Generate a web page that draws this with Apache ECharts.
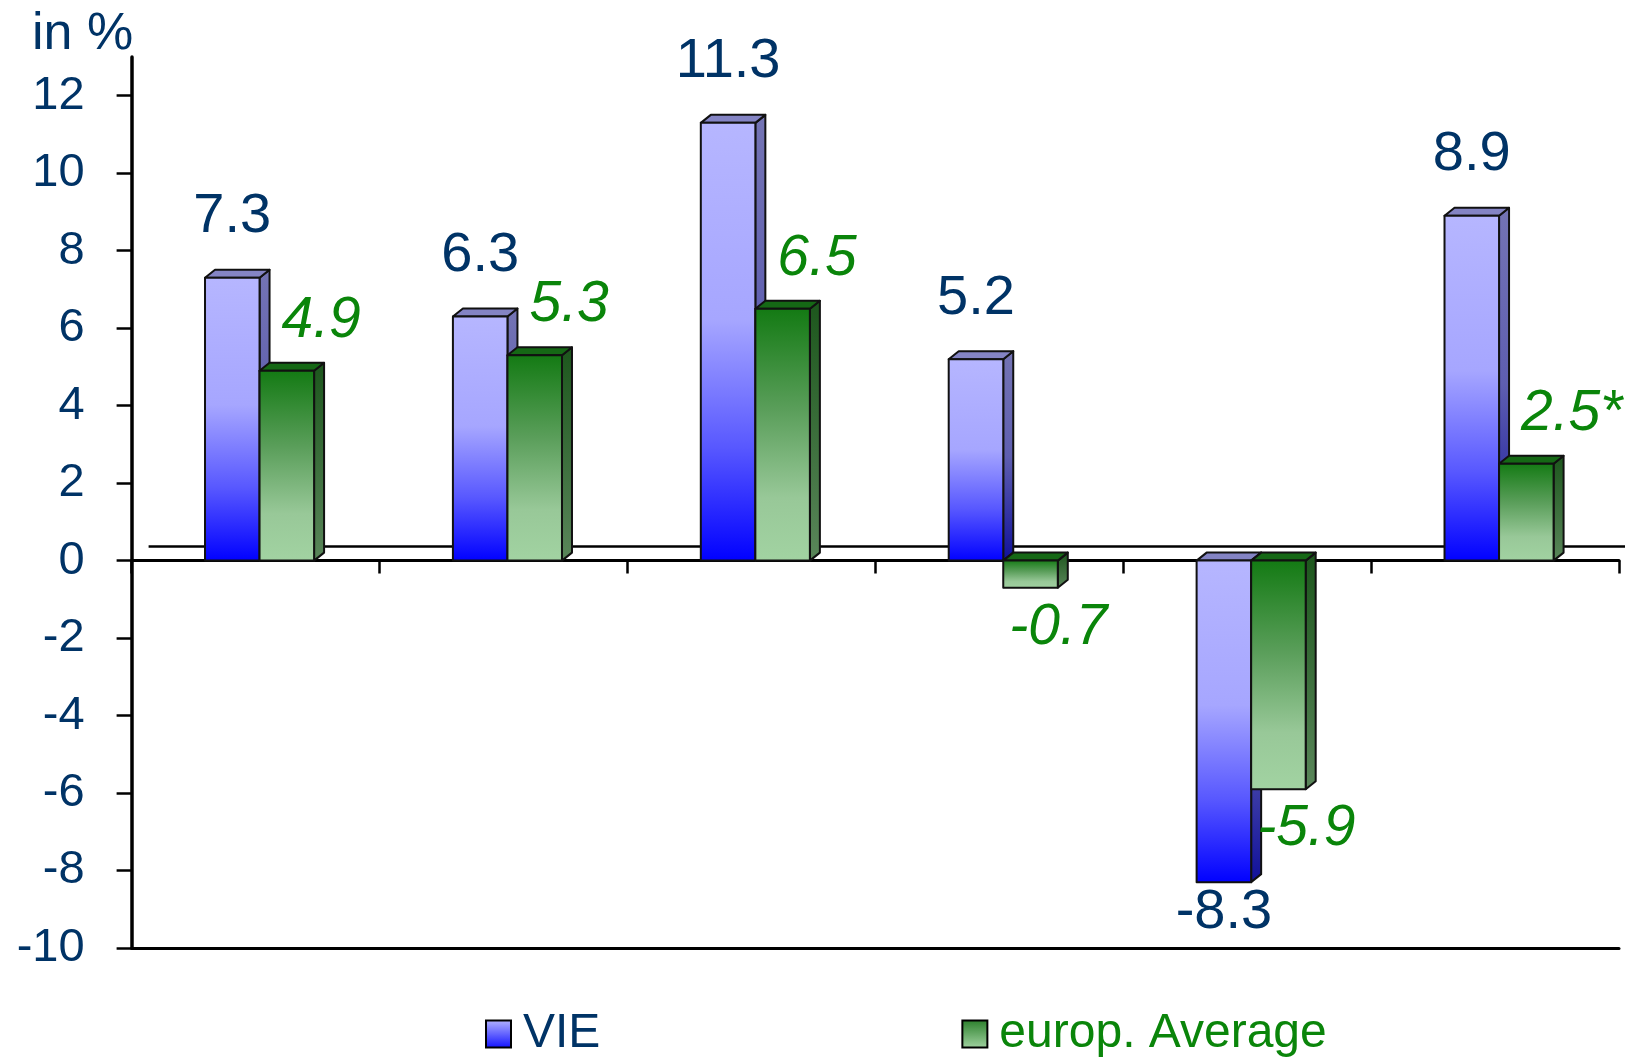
<!DOCTYPE html>
<html>
<head>
<meta charset="utf-8">
<script src="https://cdn.jsdelivr.net/npm/echarts@6/dist/echarts.min.js"></script>
<style>
html,body{margin:0;padding:0;background:#fff;}
#chart{width:1625px;height:1061px;}
</style>
</head>
<body>
<div id="chart"></div>
<script>
const categories = ['P1', 'P2', 'P3', 'P4', 'P5', 'P6'];
const vieValues = [7.3, 6.3, 11.3, 5.2, -8.3, 8.9];
const avgValues = [4.9, 5.3, 6.5, -0.7, -5.9, 2.5];
const avgNotes = ['', '', '', '', '', '*'];
const yTicks = [-10, -8, -6, -4, -2, 0, 2, 4, 6, 8, 10, 12];
const seriesNames = ['VIE', 'europ. Average'];

const FONT = "'Liberation Sans', Arial, Helvetica, sans-serif";
const NAVY = '#003366';
const GREEN = '#0a850a';
const G = echarts.graphic.LinearGradient;

const styles = [
  {
    front: new G(0, 0, 0, 1, [
      { offset: 0, color: '#b6b6ff' }, { offset: 0.45, color: '#a6a6ff' },
      { offset: 0.74, color: '#5858ff' }, { offset: 1, color: '#0000ff' }]),
    side: new G(0, 0, 0, 1, [
      { offset: 0, color: '#7474b4' }, { offset: 0.5, color: '#5e5eb0' },
      { offset: 1, color: '#10109a' }]),
    top: '#8484c4',
    labelColor: NAVY, italic: false
  },
  {
    front: new G(0, 0, 0, 1, [
      { offset: 0, color: '#137a13' }, { offset: 0.4, color: '#5a9e5a' },
      { offset: 0.75, color: '#98c898' }, { offset: 1, color: '#a2d3a2' }]),
    side: new G(0, 0, 0, 1, [
      { offset: 0, color: '#1c561c' }, { offset: 1, color: '#5a865a' }]),
    top: '#156815',
    labelColor: GREEN, italic: true
  }
];

function makeRender(side) {
  return function (params, api) {
    const cat = api.value(0);
    const v = api.value(1);
    const p0 = api.coord([cat, 0]);
    const pv = api.coord([cat, v]);
    const band = api.size([1, 0])[0];
    const w = band * 0.22;
    const dx = 10, dy = 8;
    const cx = p0[0] + 4;
    const x0 = side === 0 ? cx - w : cx;
    const yTop = Math.min(p0[1], pv[1]);
    const yBot = Math.max(p0[1], pv[1]);
    const st = styles[side];
    const stroke = { stroke: '#111', lineWidth: 2, lineJoin: 'round' };
    const children = [
      { type: 'polygon', shape: { points: [[x0 + w, yTop], [x0 + w + dx, yTop - dy], [x0 + w + dx, yBot - dy], [x0 + w, yBot]] },
        style: Object.assign({ fill: st.side }, stroke) },
      { type: 'polygon', shape: { points: [[x0, yTop], [x0 + dx, yTop - dy], [x0 + w + dx, yTop - dy], [x0 + w, yTop]] },
        style: Object.assign({ fill: st.top }, stroke) },
      { type: 'rect', shape: { x: x0, y: yTop, width: w, height: yBot - yTop },
        style: Object.assign({ fill: st.front }, stroke) }
    ];
    let text, tx, ty, align;
    if (side === 0) {
      text = vieValues[params.dataIndex].toFixed(1);
      tx = x0 + w / 2;
      align = 'center';
      ty = v >= 0 ? yTop - 61 : yBot + 30;
    } else {
      text = avgValues[params.dataIndex].toFixed(1) + avgNotes[params.dataIndex];
      if (v >= 0) { tx = x0 + 22; ty = yTop - 50; }
      else { tx = x0 + 6; ty = yBot + 40; }
      align = 'left';
    }
    children.push({
      type: 'text',
      style: {
        text: text, x: tx, y: ty, align: align, verticalAlign: 'middle',
        fill: st.labelColor,
        font: (st.italic ? 'italic ' : '') + (side === 0 ? '56px ' : '57px ') + FONT
      }
    });
    return { type: 'group', children: children };
  };
}

const chart = echarts.init(document.getElementById('chart'));
const gridLeft = 131.6;
const option = {
  animation: false,
  backgroundColor: '#ffffff',
  title: {
    text: 'in %', left: 32, top: 9, padding: 0,
    textStyle: { fontFamily: FONT, fontSize: 52, fontWeight: 'normal', color: NAVY }
  },
  legend: {
    left: 485, top: 1010, padding: 0, itemWidth: 25, itemHeight: 27, itemGap: 361,
    selectedMode: false, icon: 'rect',
    textStyle: { fontFamily: FONT, fontSize: 48, lineHeight: 48, padding: [0, 0, 0, 7] },
    data: [
      { name: seriesNames[0], textStyle: { color: NAVY },
        itemStyle: { color: new G(0, 0, 0, 1, [{ offset: 0, color: '#b6b6ff' }, { offset: 1, color: '#1010ff' }]), borderColor: '#000', borderWidth: 2 } },
      { name: seriesNames[1], textStyle: { color: GREEN },
        itemStyle: { color: new G(0, 0, 0, 1, [{ offset: 0, color: '#2a7f2a' }, { offset: 1, color: '#a2d3a2' }]), borderColor: '#000', borderWidth: 2 } }
    ]
  },
  grid: { left: gridLeft, right: 6, top: 57, bottom: 113, containLabel: false },
  xAxis: [
    {
      type: 'category', data: categories, boundaryGap: true,
      axisLine: { onZero: true, lineStyle: { color: '#000', width: 3 } },
      axisTick: { show: true, length: 13, lineStyle: { color: '#000', width: 2.5 } },
      axisLabel: { show: false }, splitLine: { show: false }
    },
    {
      type: 'category', data: categories, position: 'bottom',
      axisLine: { onZero: false, lineStyle: { color: '#000', width: 3 } },
      axisTick: { show: false }, axisLabel: { show: false }, splitLine: { show: false }
    }
  ],
  yAxis: {
    type: 'value', min: -10, max: 13, interval: 2,
    axisLine: { show: true, lineStyle: { color: '#000', width: 3.5 } },
    axisTick: { show: true, length: 15, customValues: yTicks, lineStyle: { color: '#000', width: 2.5 } },
    axisLabel: { customValues: yTicks, margin: 47, color: NAVY, fontSize: 47, fontFamily: FONT },
    splitLine: { show: false }
  },
  series: [
    { name: seriesNames[0], type: 'custom', renderItem: makeRender(0),
      encode: { x: 0, y: 1 }, data: vieValues.map((v, i) => [i, v]) },
    { name: seriesNames[1], type: 'custom', renderItem: makeRender(1),
      encode: { x: 0, y: 1 }, data: avgValues.map((v, i) => [i, v]) }
  ]
};
chart.setOption(option);

const zeroY = chart.convertToPixel({ yAxisIndex: 0 }, 0);
chart.setOption({
  graphic: [{
    type: 'line', z: 0,
    shape: { x1: gridLeft + 17, y1: zeroY - 14, x2: 1625, y2: zeroY - 14 },
    style: { stroke: '#000', lineWidth: 2.5 }
  }]
});
</script>
</body>
</html>
